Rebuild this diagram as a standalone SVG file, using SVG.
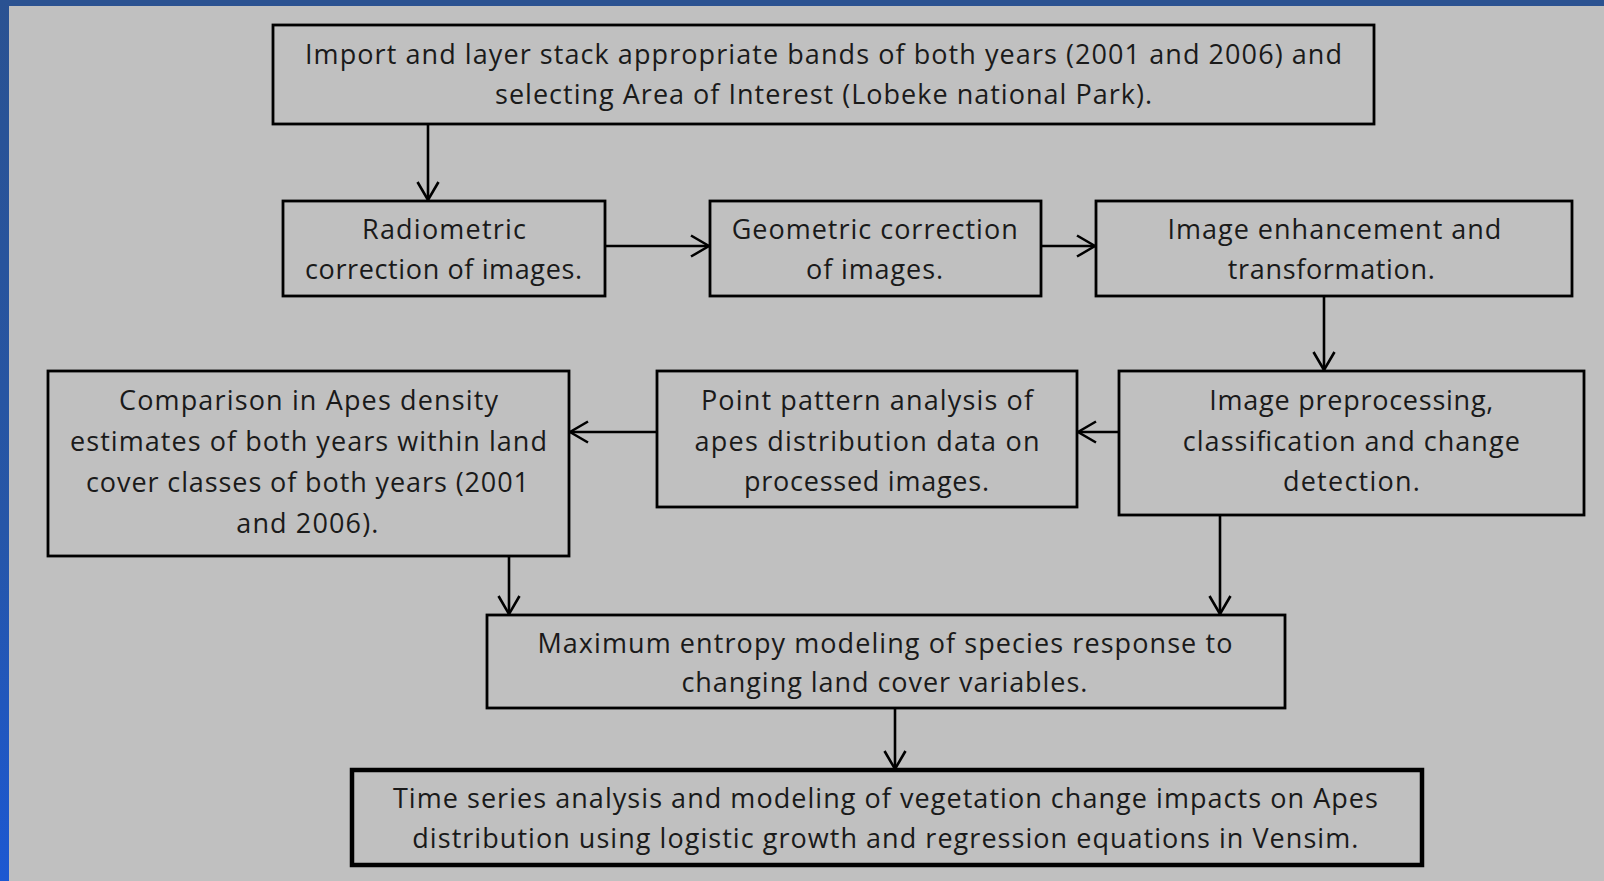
<svg xmlns="http://www.w3.org/2000/svg" width="1604" height="881" viewBox="0 0 1604 881">
  <defs>
    <linearGradient id="leftband" x1="0" y1="0" x2="0" y2="1">
      <stop offset="0" stop-color="#2a5292"/>
      <stop offset="0.6" stop-color="#2656a8"/>
      <stop offset="1" stop-color="#1c58d2"/>
    </linearGradient>
    <marker id="arr" viewBox="0 0 22 24" refX="20" refY="12" markerWidth="22" markerHeight="24" markerUnits="userSpaceOnUse" orient="auto">
      <path d="M2,1.5 L20,12 L2,22.5" fill="none" stroke="#000" stroke-width="2.6" stroke-linejoin="miter"/>
    </marker>
    <style>
      .box { fill: #c0c0c0; stroke: #000; stroke-width: 2.8; }
      .thick { stroke-width: 4.5; }
      .lbl { font-family: "Open Sans", "Liberation Sans", sans-serif; font-size: 27px; fill: #1a1a1a; text-anchor: middle; }
      .conn line { stroke: #000; stroke-width: 2.6; marker-end: url(#arr); }
    </style>
  </defs>

  <rect x="0" y="0" width="1604" height="881" fill="#c0c0c0"/>
  <rect x="0" y="0" width="1604" height="6" fill="#2b5291"/>
  <rect x="0" y="0" width="9" height="881" fill="url(#leftband)"/>

  <g id="n-import">
    <rect class="box" x="273" y="25" width="1101" height="99"/>
    <text class="lbl" x="823.5" y="64" textLength="1037">Import and layer stack appropriate bands of both years (2001 and 2006) and</text>
    <text class="lbl" x="823.5" y="104" textLength="657">selecting Area of Interest (Lobeke national Park).</text>
  </g>

  <g id="n-radiometric">
    <rect class="box" x="283" y="201" width="322" height="95"/>
    <text class="lbl" x="444" y="239" textLength="164">Radiometric</text>
    <text class="lbl" x="443.5" y="279" textLength="277">correction of images.</text>
  </g>

  <g id="n-geometric">
    <rect class="box" x="710" y="201" width="331" height="95"/>
    <text class="lbl" x="874.7" y="239" textLength="286">Geometric correction</text>
    <text class="lbl" x="874.5" y="279" textLength="137">of images.</text>
  </g>

  <g id="n-enhance">
    <rect class="box" x="1096" y="201" width="476" height="95"/>
    <text class="lbl" x="1334.4" y="239" textLength="334">Image enhancement and</text>
    <text class="lbl" x="1331.3" y="279" textLength="207">transformation.</text>
  </g>

  <g id="n-comparison">
    <rect class="box" x="48" y="371" width="521" height="185"/>
    <text class="lbl" x="308.5" y="410" textLength="379">Comparison in Apes density</text>
    <text class="lbl" x="308.5" y="451" textLength="477">estimates of both years within land</text>
    <text class="lbl" x="307.5" y="492" textLength="443">cover classes of both years (2001</text>
    <text class="lbl" x="307.3" y="533" textLength="142">and 2006).</text>
  </g>

  <g id="n-pointpattern">
    <rect class="box" x="657" y="371" width="420" height="136"/>
    <text class="lbl" x="867" y="410" textLength="332">Point pattern analysis of</text>
    <text class="lbl" x="867" y="451" textLength="345">apes distribution data on</text>
    <text class="lbl" x="866.5" y="491" textLength="245">processed images.</text>
  </g>

  <g id="n-preprocessing">
    <rect class="box" x="1119" y="371" width="465" height="144"/>
    <text class="lbl" x="1351.3" y="410" textLength="284">Image preprocessing,</text>
    <text class="lbl" x="1351.3" y="451" textLength="337">classification and change</text>
    <text class="lbl" x="1351.4" y="491" textLength="137">detection.</text>
  </g>

  <g id="n-maxent">
    <rect class="box" x="487" y="615" width="798" height="93"/>
    <text class="lbl" x="884.9" y="653" textLength="695">Maximum entropy modeling of species response to</text>
    <text class="lbl" x="884.4" y="692" textLength="406">changing land cover variables.</text>
  </g>

  <g id="n-timeseries">
    <rect class="box thick" x="352" y="770" width="1070" height="95"/>
    <text class="lbl" x="885.4" y="808" textLength="985">Time series analysis and modeling of vegetation change impacts on Apes</text>
    <text class="lbl" x="885.3" y="848" textLength="946">distribution using logistic growth and regression equations in Vensim.</text>
  </g>

  <g id="connectors" class="conn">
    <line x1="428" y1="124" x2="428" y2="200"/>
    <line x1="605" y1="246" x2="709" y2="246"/>
    <line x1="1041" y1="246" x2="1095" y2="246"/>
    <line x1="1324" y1="296" x2="1324" y2="370"/>
    <line x1="1119" y1="432" x2="1078" y2="432"/>
    <line x1="657" y1="432" x2="570" y2="432"/>
    <line x1="509" y1="556" x2="509" y2="614"/>
    <line x1="1220" y1="515" x2="1220" y2="614"/>
    <line x1="895" y1="708" x2="895" y2="769"/>
  </g>
</svg>
